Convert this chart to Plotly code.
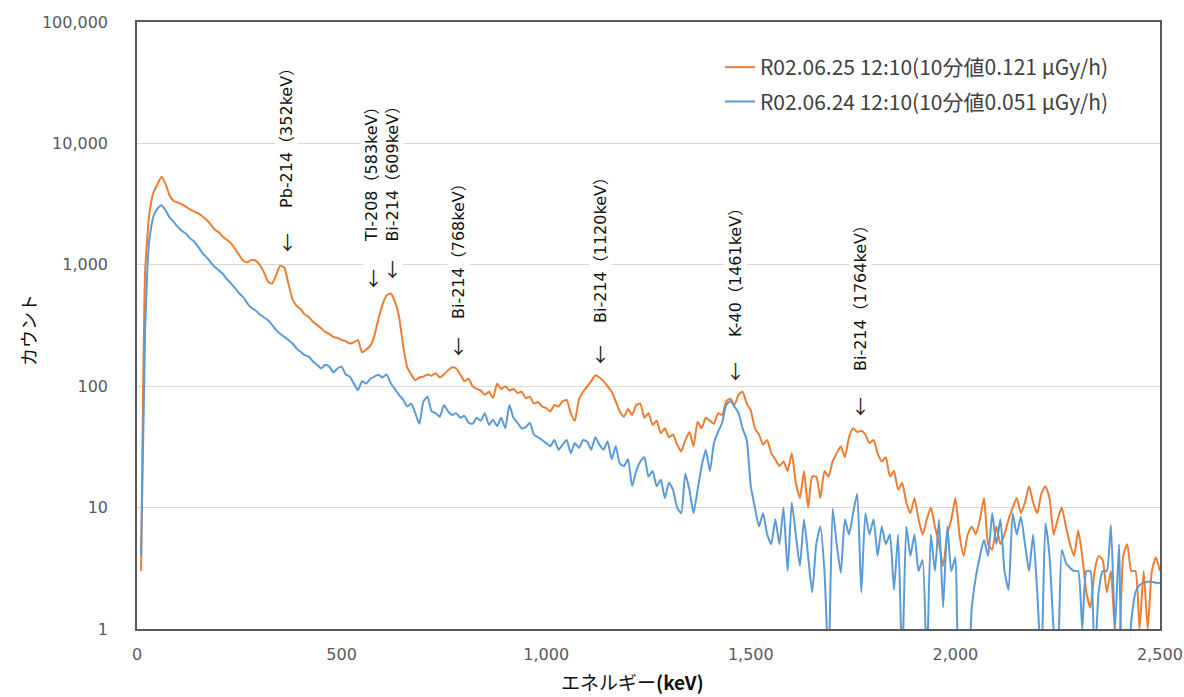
import numpy as np
import plotly.graph_objects as go

# energy channels (keV)
energy = list(range(10, 2501, 10))

# R02.06.25 12:10 spectrum (orange)
counts_0625 = [
    3, 900, 2600, 3900, 4600, 5300, 4600, 3700, 3350, 3250,
    3150, 3000, 2850, 2750, 2650, 2500, 2350, 2150, 1950, 1850,
    1700, 1600, 1500, 1350, 1200, 1080, 1050, 1100, 1080, 1000,
    870, 730, 700, 820, 980, 950, 700, 520, 460, 430,
    390, 370, 340, 320, 300, 280, 270, 255, 250, 240,
    235, 225, 230, 240, 190, 200, 215, 260, 360, 470,
    560, 580, 500, 380, 220, 145, 125, 112, 118, 120,
    125, 122, 128, 118, 125, 135, 143, 140, 125, 110,
    115, 100, 95, 92, 85, 90, 80, 105, 95, 100,
    92, 95, 88, 90, 80, 82, 72, 74, 68, 66,
    62, 70, 68, 75, 77, 60, 52, 78, 90, 99,
    110, 123, 118, 110, 100, 90, 75, 62, 56, 65,
    58, 70, 72, 55, 60, 48, 52, 41, 45, 38,
    40, 33, 29, 36, 42, 32, 51, 45, 55, 52,
    49, 60, 58, 75, 79, 70, 85, 90, 72, 63,
    45, 40, 33, 36, 28, 25, 22, 24, 20, 28,
    16, 12, 20, 10, 18, 18, 12, 20, 18, 24,
    28, 32, 26, 38, 45, 42, 43, 40, 34, 36,
    28, 24, 26, 18, 20, 14, 16, 11, 9, 12,
    8, 6, 8, 10, 7, 5, 3.3, 6, 8, 12,
    6, 4, 6, 7, 6, 8, 12, 5, 4.5, 7,
    5, 6, 8, 10, 12, 9, 11, 15, 11, 9,
    13, 15, 12, 6, 8, 10, 7, 5, 4, 6.5,
    4, 2, 1.5, 3, 4, 3.7, 2, 3, 1, 0.8,
    4, 5, 3, 3, 1, 3, 1, 3, 3.9, 3,
]

# R02.06.24 12:10 spectrum (blue)
counts_0624 = [
    4, 300, 1600, 2500, 2900, 3100, 2800, 2450, 2250, 2050,
    1900, 1800, 1650, 1550, 1400, 1250, 1150, 1050, 960, 900,
    840, 760, 700, 640, 580, 540, 480, 440, 420, 390,
    370, 350, 320, 290, 270, 255, 240, 225, 205, 192,
    180, 175, 160, 150, 140, 150, 145, 130, 140, 145,
    125, 120, 105, 93, 110, 105, 115, 120, 124, 118,
    125, 106, 95, 85, 78, 68, 72, 60, 49, 75,
    82, 62, 60, 56, 70, 62, 58, 60, 55, 57,
    50, 49, 55, 52, 60, 48, 53, 47, 55, 45,
    70, 55, 50, 45, 46, 50, 40, 38, 36, 34,
    32, 36, 30, 33, 36, 28, 34, 31, 36, 35,
    30, 38, 33, 30, 35, 25, 32, 23, 22, 25,
    15, 20, 24, 26, 18, 20, 15, 17, 12, 16,
    14, 10, 9, 19, 14, 9, 14, 22, 30, 20,
    34, 42, 50, 70, 75, 68, 60, 45, 36, 15,
    10, 7, 9, 6, 5, 8, 5, 10, 3, 11,
    6, 3.3, 8, 4, 2, 5, 7, 3, 0.5, 9.8,
    5, 2.9, 8, 6, 9, 13, 2, 9, 6, 8,
    4, 7, 5, 6, 2.1, 6, 0.5, 7, 4, 6,
    3, 3.7, 0.5, 6, 3, 8, 1.5, 7, 3, 3.9,
    0.5, 0.5, 0.5, 1.5, 2.7, 4, 5.4, 4, 9, 5,
    8, 3, 2.1, 9, 6, 8.4, 5, 3, 6, 2,
    0.5, 7.4, 4, 1, 0.5, 4.5, 3.5, 3.2, 3, 3,
    1, 3, 3, 0.5, 2, 3, 3, 7.2, 1, 5,
    0.5, 0.5, 1.2, 2, 2.3, 2.4, 2.45, 2.45, 2.4, 2.4,
]

series_names = [
    "R02.06.25 12:10(10分値0.121 μGy/h)",
    "R02.06.24 12:10(10分値0.051 μGy/h)",
]

y_tickvals = [1, 10, 100, 1000, 10000, 100000]
y_ticktext = ["1", "10", "100", "1,000", "10,000", "100,000"]
x_tickvals = [0, 500, 1000, 1500, 2000, 2500]
x_ticktext = ["0", "500", "1,000", "1,500", "2,000", "2,500"]

nuclide_labels = [
    "Pb-214（352keV）",
    "Tl-208（583keV）<br>Bi-214（609keV）",
    "Bi-214（768keV）",
    "Bi-214（1120keV）",
    "K-40（1461keV）",
    "Bi-214（1764keV）",
]

# ---------------- layout / styling ----------------
W, H = 1184, 697
L, R, T, B = 137, 24, 22, 68
PW, PH = W - L - R, H - T - B

def px_to_paper(px, py):
    return (px - L) / PW, (H - B - py) / PH

# label centres and arrow positions (pixels)
label_pos = [(287, 134), (382, 170), (458, 247), (600, 246), (735, 269), (860, 294)]
arrow_pos = [(287, 241), (373, 277), (392, 268), (458, 345), (600, 353), (735, 370), (860, 405)]

FONT = "Noto Sans CJK JP"
LABEL_FONT = "DejaVu Sans, Noto Sans CJK JP"
TICK_FONT = "DejaVu Sans"
ORANGE = "#ED7D31"
BLUE = "#5B9BD5"

fig = go.Figure()
fig.add_trace(go.Scatter(
    x=energy, y=counts_0625, mode="lines", name=series_names[0],
    line=dict(color=ORANGE, width=2, shape="spline", smoothing=0.5),
    legendgroup="a",
))
fig.add_trace(go.Scatter(
    x=energy, y=counts_0624, mode="lines", name=series_names[1],
    line=dict(color=BLUE, width=2, shape="spline", smoothing=0.5),
    legendgroup="b",
))

annotations = []
for text, (cx, cy) in zip(nuclide_labels, label_pos):
    xp, yp = px_to_paper(cx, cy)
    annotations.append(dict(
        x=xp, y=yp, xref="paper", yref="paper", text=text, showarrow=False,
        textangle=-90, xanchor="center", yanchor="middle",
        font=dict(family=LABEL_FONT, size=16, color="#111111"),
        bgcolor="white", borderpad=1,
    ))
for (ax_, ay_) in arrow_pos:
    xp, yp = px_to_paper(ax_, ay_)
    annotations.append(dict(
        x=xp, y=yp, xref="paper", yref="paper", text="↓", showarrow=False,
        xanchor="center", yanchor="middle",
        font=dict(family=FONT, size=19, color="#222222"),
        bgcolor="white", borderpad=0,
    ))

# axis titles
xp, yp = px_to_paper(632, 681)
annotations.append(dict(
    x=xp, y=yp, xref="paper", yref="paper", text="エネルギー<b>(keV)</b>",
    showarrow=False, xanchor="center", yanchor="middle",
    font=dict(family=FONT, size=19, color="#111111"),
))
xp, yp = px_to_paper(28, 330)
annotations.append(dict(
    x=xp, y=yp, xref="paper", yref="paper", text="カウント",
    showarrow=False, xanchor="center", yanchor="middle", textangle=-90,
    font=dict(family=FONT, size=18, color="#111111"),
))

lx, ly = px_to_paper(720, 47)
fig.update_layout(
    width=W, height=H,
    margin=dict(l=L, r=R, t=T, b=B, autoexpand=False),
    paper_bgcolor="white", plot_bgcolor="white",
    font=dict(family=FONT, color="#595959"),
    showlegend=True,
    legend=dict(
        x=lx, y=ly, xanchor="left", yanchor="top",
        bgcolor="rgba(255,255,255,0)",
        font=dict(family=FONT, size=21, color="#404040"),
        tracegroupgap=4, traceorder="grouped",
        itemwidth=30,
    ),
    xaxis=dict(
        range=[0, 2500], tickvals=x_tickvals, ticktext=x_ticktext,
        showgrid=False, zeroline=False, automargin=False,
        showline=True, linecolor="#595959", linewidth=1.5, mirror=True,
        ticks="", tickfont=dict(family=TICK_FONT, size=16, color="#595959"),
        ticklabelstandoff=10,
    ),
    yaxis=dict(
        type="log", range=[0, 5], tickvals=y_tickvals, ticktext=y_ticktext,
        showgrid=True, gridcolor="#D9D9D9", gridwidth=1, zeroline=False, automargin=False,
        showline=True, linecolor="#595959", linewidth=1.5, mirror=True,
        ticks="", tickfont=dict(family=TICK_FONT, size=16, color="#595959"),
        ticklabelstandoff=24,
    ),
    annotations=annotations,
)

fig.write_html(
    "out.html",
    config={"displayModeBar": False},
    post_script="document.body.style.margin='0px';document.body.style.overflow='hidden';",
)
